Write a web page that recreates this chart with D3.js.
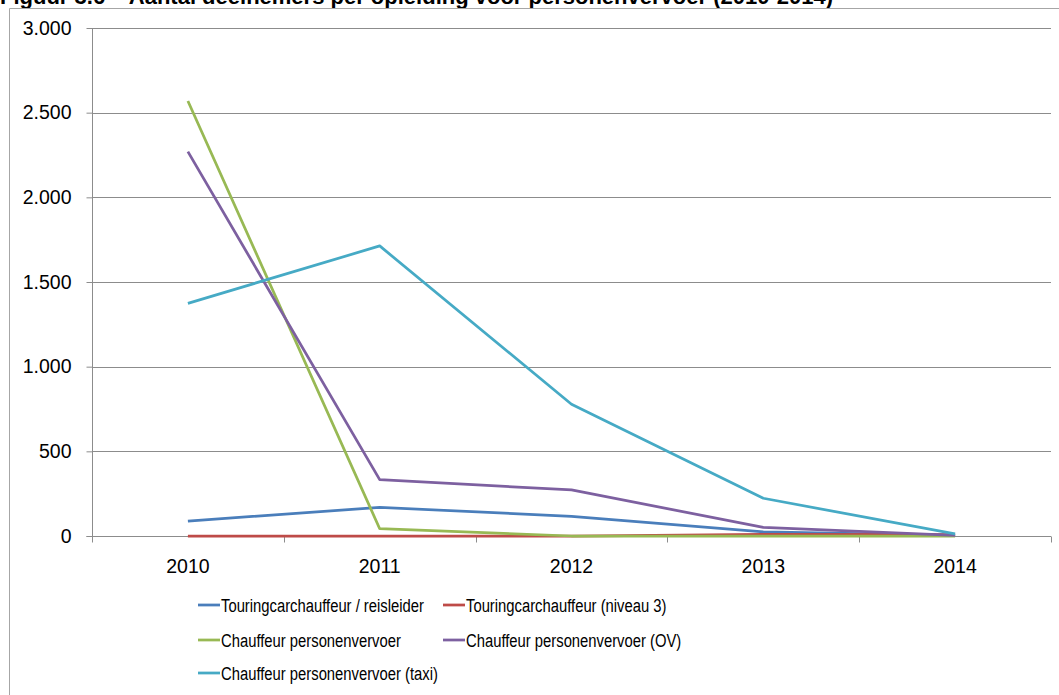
<!DOCTYPE html>
<html>
<head>
<meta charset="utf-8">
<script src="https://cdn.jsdelivr.net/npm/d3@7"></script>
<style>
  html, body { margin: 0; padding: 0; background: #fff; }
  svg { display: block; }
</style>
</head>
<body>
<svg id="chart" width="1059" height="695"></svg>
<script>
// Participants per training programme in passenger transport, 2010-2014
const years = ["2010", "2011", "2012", "2013", "2014"];
const yTicks = [0, 500, 1000, 1500, 2000, 2500, 3000];

const touringReisleider = [88, 169, 116, 24, 4];
const touringNiveau3 = [0, 0, 0, 10, 8];
const chauffeurPV = [2569, 43, 0, 0, 0];
const chauffeurOV = [2270, 333, 272, 51, 3];
const chauffeurTaxi = [1374, 1713, 778, 223, 12];

const seriesNames = [
  "Touringcarchauffeur / reisleider",
  "Touringcarchauffeur (niveau 3)",
  "Chauffeur personenvervoer",
  "Chauffeur personenvervoer (OV)",
  "Chauffeur personenvervoer (taxi)"
];
const seriesColors = ["#4A7EBB", "#BE4B48", "#98B954", "#7D60A0", "#46AAC5"];
const seriesValues = [touringReisleider, touringNiveau3, chauffeurPV, chauffeurOV, chauffeurTaxi];

const svg = d3.select("#chart");
const margin = { left: 92, right: 1051, top: 28, bottom: 536 };
const tickFont = "Liberation Sans, Arial, sans-serif";

// Title, running off the top edge of the page
svg.append("text")
  .attr("x", 0).attr("y", 4)
  .attr("font-family", tickFont)
  .attr("font-weight", "bold")
  .attr("font-size", 22)
  .attr("fill", "#000")
  .text("Figuur 3.6 \u2013 Aantal deelnemers per opleiding voor personenvervoer (2010-2014)");

// Chart frame
svg.append("rect")
  .attr("x", 0).attr("y", 8).attr("width", 1059).attr("height", 687).attr("fill", "#fff");
svg.append("path")
  .attr("d", "M9.5,695 L9.5,8.5 L1059,8.5")
  .attr("fill", "none").attr("stroke", "#a6a6a6").attr("stroke-width", 1);

const x = d3.scaleBand().domain(years).range([margin.left, margin.right]);
const y = d3.scaleLinear().domain([0, 3000]).range([margin.bottom, margin.top]);

// Gridlines
svg.append("g").selectAll("line")
  .data(yTicks.filter(d => d > 0))
  .join("line")
  .attr("x1", margin.left).attr("x2", margin.right)
  .attr("y1", d => Math.round(y(d)) + 0.5).attr("y2", d => Math.round(y(d)) + 0.5)
  .attr("stroke", "#8c8c8c").attr("stroke-width", 1);

// Y axis
const yAxis = svg.append("g")
  .attr("transform", `translate(${margin.left + 0.5},0)`)
  .call(d3.axisLeft(y).tickValues(yTicks).tickSize(6).tickPadding(15)
    .tickFormat(d => d3.format(",")(d).replace(/,/g, ".")));
yAxis.selectAll("path, line").attr("stroke", "#8c8c8c");
yAxis.select(".domain").attr("d", `M-6,${margin.bottom + 0.5}H0V${margin.top}`);
yAxis.selectAll("text")
  .attr("font-family", tickFont)
  .attr("font-size", 19.5).attr("fill", "#000");

// X axis with tick marks at category boundaries
const xg = svg.append("g").attr("transform", `translate(0,${margin.bottom + 0.5})`);
xg.append("line")
  .attr("x1", margin.left).attr("x2", margin.right)
  .attr("stroke", "#8c8c8c");
const bounds = years.map(d => x(d)).concat([x(years[years.length - 1]) + x.bandwidth()]);
xg.selectAll("line.tick").data(bounds).join("line")
  .attr("class", "tick")
  .attr("x1", d => Math.round(d) + 0.5).attr("x2", d => Math.round(d) + 0.5)
  .attr("y1", 0).attr("y2", 6)
  .attr("stroke", "#8c8c8c");
xg.selectAll("text").data(years).join("text")
  .attr("x", d => x(d) + x.bandwidth() / 2)
  .attr("y", 36.5)
  .attr("text-anchor", "middle")
  .attr("font-family", tickFont)
  .attr("font-size", 19.5).attr("fill", "#000")
  .text(d => d);

// Lines
const line = d3.line()
  .x((d, i) => x(years[i]) + x.bandwidth() / 2)
  .y(d => y(d));

svg.append("g").selectAll("path")
  .data(seriesValues)
  .join("path")
  .attr("d", d => line(d))
  .attr("fill", "none")
  .attr("stroke", (d, i) => seriesColors[i])
  .attr("stroke-width", 2.75)
  .attr("stroke-linejoin", "round");

// Legend
const legendPos = [
  { x: 198, y: 605 }, { x: 443, y: 605 },
  { x: 198, y: 640 }, { x: 443, y: 640 },
  { x: 198, y: 673 }
];
const legend = svg.append("g").selectAll("g")
  .data(seriesNames)
  .join("g")
  .attr("transform", (d, i) => `translate(${legendPos[i].x},${legendPos[i].y})`);
legend.append("line")
  .attr("x1", 0).attr("x2", 22).attr("y1", 0).attr("y2", 0)
  .attr("stroke", (d, i) => seriesColors[i]).attr("stroke-width", 2.75);
// condensed label text
legend.append("text")
  .attr("transform", "translate(23,0) scale(0.78,1)")
  .attr("dy", "0.35em")
  .attr("font-family", tickFont)
  .attr("font-size", 19).attr("fill", "#000")
  .text(d => d);
</script>
</body>
</html>
